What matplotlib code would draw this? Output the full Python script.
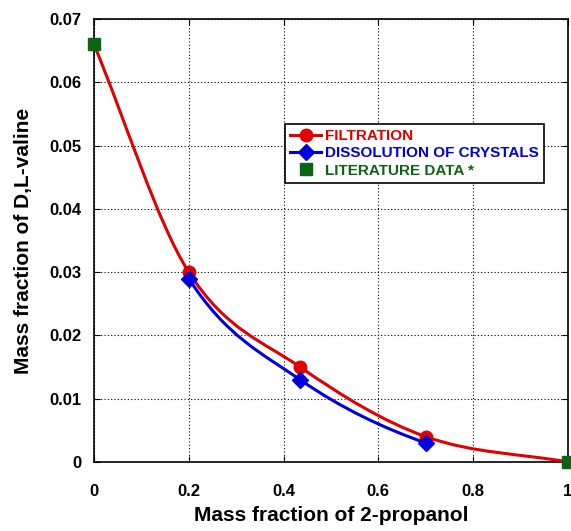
import numpy as np
import matplotlib.pyplot as plt
from matplotlib.path import Path
from matplotlib.patches import PathPatch
from matplotlib.lines import Line2D

plt.rcParams['font.family'] = ['Liberation Sans', 'DejaVu Sans']
plt.rcParams['font.weight'] = 'bold'

# data
x_filt = [0.0, 0.2, 0.435, 0.7, 1.0]
y_filt = [0.066, 0.030, 0.015, 0.004, 0.0]
x_diss = [0.2, 0.435, 0.7]
y_diss = [0.029, 0.013, 0.003]
x_lit = [0.0, 1.0]
y_lit = [0.066, 0.0]

xticks = [0, 0.2, 0.4, 0.6, 0.8, 1]
xtick_labels = ["0", "0.2", "0.4", "0.6", "0.8", "1"]
yticks = [0, 0.01, 0.02, 0.03, 0.04, 0.05, 0.06, 0.07]
ytick_labels = ["0", "0.01", "0.02", "0.03", "0.04", "0.05", "0.06", "0.07"]


def slopes(xs, ys):
    """ catmull-rom tangents, secant at the ends """
    xs = np.asarray(xs, float)
    ys = np.asarray(ys, float)
    m = np.zeros(len(xs))
    m[1:-1] = (ys[2:] - ys[:-2]) / (xs[2:] - xs[:-2])
    m[0] = (ys[1] - ys[0]) / (xs[1] - xs[0])
    m[-1] = (ys[-1] - ys[-2]) / (xs[-1] - xs[-2])
    return m


def smooth_path(xs, ys, m):
    """ bezier path through the points (smoothed line like the original) """
    verts = [(xs[0], ys[0])]
    codes = [Path.MOVETO]
    for i in range(len(xs) - 1):
        h = xs[i + 1] - xs[i]
        verts += [(xs[i] + h / 3, ys[i] + m[i] * h / 3),
                  (xs[i + 1] - h / 3, ys[i + 1] - m[i + 1] * h / 3),
                  (xs[i + 1], ys[i + 1])]
        codes += [Path.CURVE4] * 3
    return Path(verts, codes)


m_filt = slopes(x_filt, y_filt)
m_diss = slopes(x_diss, y_diss)
# dissolution curve runs parallel to the filtration one at its ends
m_diss[0] = m_filt[1]
m_diss[-1] = m_filt[3]

red = '#e00000'
blue = '#0000dd'
green = '#0a6414'

fig = plt.figure(figsize=(5.71, 5.31), dpi=100)
ax = fig.add_axes([0.1646, 0.130, 0.830, 0.834])

ax.add_patch(PathPatch(smooth_path(x_filt, y_filt, m_filt), fill=False, edgecolor=red, lw=2.2, zorder=3))
ax.add_patch(PathPatch(smooth_path(x_diss, y_diss, m_diss), fill=False, edgecolor=blue, lw=2.2, zorder=3))
ax.plot(x_filt[1:-1], y_filt[1:-1], 'o', color=red, ms=9, zorder=4)
ax.plot(x_diss, y_diss, 'D', color=blue, ms=8, zorder=5)
ax.plot(x_lit, y_lit, 's', color=green, ms=9, zorder=6, clip_on=False)

ax.set_xlim(0, 1)
ax.set_ylim(0, 0.07)
ax.set_xticks(xticks)
ax.set_xticklabels(xtick_labels)
ax.set_yticks(yticks)
ax.set_yticklabels(ytick_labels)
ax.tick_params(axis='x', pad=16)
ax.tick_params(axis='y', pad=9)
ax.tick_params(direction='in', top=True, right=True, labelsize=12, length=4)
ax.grid(True, color='black', linestyle=(0, (1, 2)), linewidth=0.8)
for s in ax.spines.values():
    s.set_linewidth(1.2)

ax.set_xlabel('Mass fraction of 2-propanol', fontsize=15, fontweight='bold', labelpad=5)
ax.set_ylabel('Mass fraction of D,L-valine', fontsize=15, fontweight='bold', labelpad=12)

handles = [Line2D([], [], color=red, lw=2.2, marker='o', ms=9),
           Line2D([], [], color=blue, lw=2.2, marker='D', ms=8),
           Line2D([], [], color=green, lw=0, marker='s', ms=9)]
labels = ['FILTRATION', 'DISSOLUTION OF CRYSTALS', 'LITERATURE DATA *']
leg = ax.legend(handles, labels, loc='upper left', bbox_to_anchor=(0.403, 0.763),
                fancybox=False, framealpha=1, edgecolor='black', fontsize=11,
                handlelength=2.0, handletextpad=0.25, borderpad=0.35, labelspacing=0.2,
                borderaxespad=0)
leg.get_frame().set_linewidth(1.2)
for t, c in zip(leg.get_texts(), [red, blue, green]):
    t.set_color(c)
    t.set_fontweight('bold')

fig.savefig('out.png', dpi=100)
